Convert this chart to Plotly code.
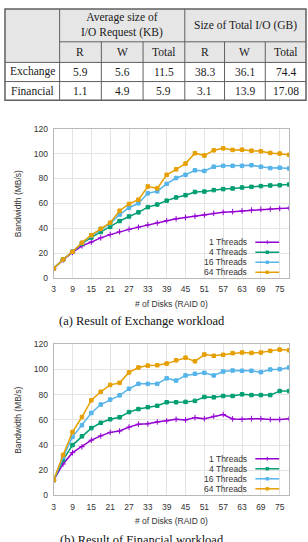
import plotly.graph_objects as go

# ---------------- data ----------------
disks = list(range(3, 79, 3))
series_names = ["1 Threads", "4 Threads", "16 Threads", "64 Threads"]

exch_1 = [7.5, 14.5, 20.5, 25.7, 28.8, 32.2, 34.8, 37.1, 39.0, 40.8, 42.6, 44.2, 46.0,
          47.5, 48.6, 49.6, 50.6, 51.9, 52.7, 53.2, 53.8, 54.5, 55.1, 55.3, 55.8, 56.1]
exch_4 = [7.5, 14.8, 21.0, 27.5, 32.5, 36.9, 41.0, 45.7, 49.4, 52.7, 56.9, 59.0, 62.1,
          64.7, 66.5, 69.1, 69.4, 70.6, 71.4, 71.9, 72.7, 73.2, 73.8, 74.3, 74.5, 75.1]
exch_16 = [7.5, 14.8, 21.0, 28.0, 34.0, 39.2, 43.9, 50.9, 56.4, 60.0, 68.0, 69.6, 75.6,
           80.3, 82.9, 86.5, 86.0, 89.4, 90.1, 90.1, 90.1, 90.6, 89.4, 88.3, 88.6, 88.0]
exch_64 = [7.5, 14.8, 21.0, 28.3, 34.3, 39.5, 44.4, 54.0, 59.5, 62.9, 73.5, 72.0, 82.9,
           87.3, 91.9, 100.3, 98.4, 102.6, 104.2, 102.9, 103.1, 102.3, 101.8, 100.5, 100.0, 99.0]

fin_1 = [12.2, 25.0, 34.0, 38.7, 43.9, 47.3, 50.1, 51.2, 54.3, 56.6, 56.9, 58.4, 59.2,
         60.5, 60.0, 61.8, 61.0, 62.9, 64.3, 60.8, 60.5, 61.0, 61.0, 60.3, 60.3, 61.0]
fin_4 = [12.2, 28.3, 40.0, 47.0, 53.5, 57.7, 60.5, 62.1, 66.2, 68.6, 70.1, 71.2, 74.0,
         74.0, 74.3, 75.1, 78.2, 77.9, 79.0, 79.0, 80.3, 79.7, 79.7, 79.7, 82.9, 82.9]
fin_16 = [12.2, 30.4, 46.5, 55.8, 65.5, 72.2, 76.1, 79.5, 84.7, 88.6, 88.6, 88.6, 93.0,
          91.2, 95.3, 96.6, 97.4, 95.3, 98.4, 99.2, 99.0, 99.0, 97.9, 100.0, 100.3, 101.6]
fin_64 = [12.2, 32.2, 50.4, 62.3, 75.6, 82.3, 87.8, 89.4, 97.7, 101.6, 103.1, 103.4, 104.7,
          107.3, 109.4, 106.5, 111.9, 110.9, 111.7, 113.0, 113.5, 113.2, 113.5, 114.8, 115.8, 115.3]

# table data
tbl_group_headers = ["Average size of<br>I/O Request (KB)", "Size of Total I/O (GB)"]
tbl_sub_headers = ["R", "W", "Total", "R", "W", "Total"]
tbl_row_names = ["Exchange", "Financial"]
tbl_req_R = ["5.9", "1.1"]
tbl_req_W = ["5.6", "4.9"]
tbl_req_T = ["11.5", "5.9"]
tbl_io_R = ["38.3", "3.1"]
tbl_io_W = ["36.1", "13.9"]
tbl_io_T = ["74.4", "17.08"]

captions = ["(a) Result of Exchange workload", "(b) Result of Financial workload"]
x_ticks = list(range(3, 79, 6))
y_ticks = list(range(0, 121, 20))

# ---------------- styling ----------------
W, H = 308, 542
colors = ["#9400d3", "#009e73", "#56b4e9", "#e69f00"]
symbols = ["cross-thin", "square", "square", "square"]
SANS = "Liberation Sans, Arial, sans-serif"
SERIF = "Liberation Serif, Times New Roman, serif"


def px(x):
    return x / W


def py(y):
    return 1 - y / H


fig = go.Figure()

charts = [
    dict(data=[exch_1, exch_4, exch_16, exch_64], top=126.0, bot=278.0, ax="", caption_y=322.0,
         tick_y=290.0, title_y=304.5, leg_y0=241.7),
    dict(data=[fin_1, fin_4, fin_16, fin_64], top=345.7, bot=499.7, ax="2", caption_y=545.5,
         tick_y=510.7, title_y=525.7, leg_y0=462.3),
]
plot_l, plot_r = 52.0, 289.0

for c in charts:
    xa = "x" + c["ax"]
    ya = "y" + c["ax"]
    for name, vals, col, sym in zip(series_names, c["data"], colors, symbols):
        fig.add_trace(go.Scatter(
            x=disks, y=vals, name=name, mode="lines+markers", xaxis=xa, yaxis=ya,
            line=dict(color=col, width=1.5),
            marker=dict(color=col, size=3.5 if sym == "square" else 4, symbol=sym,
                        line=dict(color=col, width=1)),
            showlegend=False, hoverinfo="x+y+name"))

axis_common = dict(showgrid=True, gridcolor="#e4e4e4", gridwidth=1, zeroline=False,
                   showline=True, linecolor="#b8b8b8", linewidth=1, mirror=True,
                   ticks="", tickfont=dict(family=SANS, size=8.5, color="#333333"))

layout = dict(width=W, height=H, margin=dict(l=0, r=0, t=0, b=0),
              paper_bgcolor="white", plot_bgcolor="white", showlegend=False)

for c in charts:
    suffix = c["ax"]
    xd = [px(plot_l), px(plot_r)]
    yd = [py(c["bot"]), py(c["top"])]
    layout["xaxis" + suffix] = dict(axis_common, domain=xd, range=[3, 78], tickvals=x_ticks,
                                    anchor="y" + suffix, ticklabelstandoff=3)
    layout["yaxis" + suffix] = dict(axis_common, domain=yd, range=[0, 120], tickvals=y_ticks,
                                    anchor="x" + suffix, ticklabelstandoff=3)

fig.update_layout(**layout)

annotations = []
shapes = []

# chart titles, captions and custom legends
for c in charts:
    mid = (c["top"] + c["bot"]) / 2
    annotations.append(dict(text="Bandwidth (MB/s)", x=px(16), y=py(mid), xref="paper", yref="paper",
                            textangle=-90, showarrow=False, xanchor="center", yanchor="middle",
                            font=dict(family=SANS, size=8.5, color="#333333")))
    annotations.append(dict(text="# of Disks (RAID 0)", x=px((plot_l + plot_r) / 2), y=py(c["title_y"]),
                            xref="paper", yref="paper", showarrow=False, xanchor="center",
                            yanchor="middle", font=dict(family=SANS, size=8.5, color="#333333")))
    for i, (name, col, sym) in enumerate(zip(series_names, colors, symbols)):
        ry = c["leg_y0"] + i * 10.2
        annotations.append(dict(text=name, x=px(249), y=py(ry), xref="paper", yref="paper",
                                showarrow=False, xanchor="right", yanchor="middle",
                                font=dict(family=SANS, size=8.5, color="#333333")))
        shapes.append(dict(type="line", xref="paper", yref="paper", x0=px(255), x1=px(279),
                           y0=py(ry), y1=py(ry), line=dict(color=col, width=1.5)))
        if sym == "square":
            shapes.append(dict(type="rect", xref="paper", yref="paper", x0=px(265.3), x1=px(268.7),
                               y0=py(ry - 1.7), y1=py(ry + 1.7), fillcolor=col, line=dict(width=0)))
        else:
            shapes.append(dict(type="line", xref="paper", yref="paper", x0=px(267), x1=px(267),
                               y0=py(ry - 2), y1=py(ry + 2), line=dict(color=col, width=1)))

for cap, c in zip(captions, charts):
    annotations.append(dict(text=cap, x=px(141), y=py(c["caption_y"]), xref="paper", yref="paper",
                            showarrow=False, xanchor="center", yanchor="middle",
                            font=dict(family=SERIF, size=12.5, color="#111111")))

# ---------------- table ----------------
col_edges = [3, 58, 100, 142, 184, 224, 265, 306]
row_edges = [4, 37.5, 58.5, 78, 97]
line_col = "#606060"

shapes.append(dict(type="rect", xref="paper", yref="paper", x0=px(col_edges[0]), x1=px(col_edges[-1]),
                   y0=py(row_edges[2]), y1=py(row_edges[0]), fillcolor="#e6e6e6", line=dict(width=0),
                   layer="below"))


def hline(y, x0, x1, w=1):
    shapes.append(dict(type="line", xref="paper", yref="paper", x0=px(x0), x1=px(x1), y0=py(y), y1=py(y),
                       line=dict(color=line_col, width=w)))


def vline(x, y0, y1, w=1):
    shapes.append(dict(type="line", xref="paper", yref="paper", x0=px(x), x1=px(x), y0=py(y0), y1=py(y1),
                       line=dict(color=line_col, width=w)))


hline(row_edges[1], col_edges[1], col_edges[-1])
hline(row_edges[2], col_edges[0], col_edges[-1])
hline(row_edges[3], col_edges[0], col_edges[-1])
vline(col_edges[1], row_edges[0], row_edges[-1])
vline(col_edges[4], row_edges[0], row_edges[-1])
for k in [2, 3, 5, 6]:
    vline(col_edges[k], row_edges[1], row_edges[-1])
shapes.append(dict(type="rect", xref="paper", yref="paper", x0=px(col_edges[0]), x1=px(col_edges[-1]),
                   y0=py(row_edges[-1]), y1=py(row_edges[0]), line=dict(color=line_col, width=1.5)))

tfont = dict(family=SERIF, size=11.5, color="#1a1a1a")


def cell_text(text, ci0, ci1, ri):
    xc = (col_edges[ci0] + col_edges[ci1]) / 2
    yc = (row_edges[ri] + row_edges[ri + 1]) / 2
    annotations.append(dict(text=text, x=px(xc), y=py(yc), xref="paper", yref="paper", showarrow=False,
                            xanchor="center", yanchor="middle", font=tfont))


cell_text(tbl_group_headers[0], 1, 4, 0)
cell_text(tbl_group_headers[1], 4, 7, 0)
for j, h in enumerate(tbl_sub_headers):
    cell_text(h, j + 1, j + 2, 1)
value_cols = [tbl_req_R, tbl_req_W, tbl_req_T, tbl_io_R, tbl_io_W, tbl_io_T]
for r, rn in enumerate(tbl_row_names):
    cell_text(rn, 0, 1, r + 2)
    for j, col in enumerate(value_cols):
        cell_text(col[r], j + 1, j + 2, r + 2)

fig.update_layout(annotations=annotations, shapes=shapes)
fig.write_html("out.html")
